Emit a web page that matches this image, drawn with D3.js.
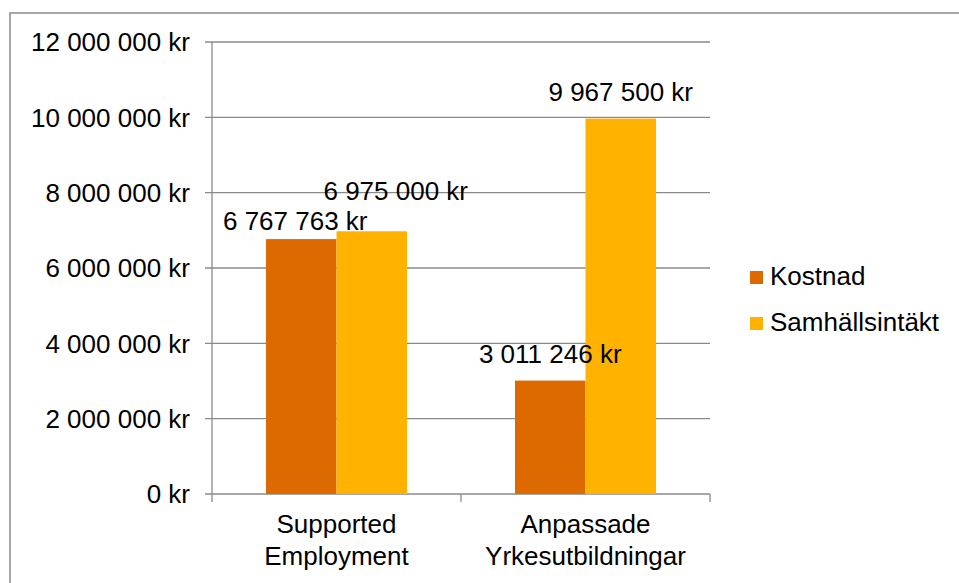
<!DOCTYPE html>
<html lang="sv">

<head>
  <meta charset="utf-8">
  <title>Kostnad och samhällsintäkt</title>
  <script src="https://cdn.jsdelivr.net/npm/d3@7"></script>
  <style>
    body { margin: 0; background: #fff; }
    svg text { font-family: "Liberation Sans", Arial, sans-serif; font-size: 26px; fill: #000; }
  </style>
</head>

<body>
  <svg id="chart" width="959" height="583"></svg>

  <script>
    // Data
    var categories = ["Supported Employment", "Anpassade Yrkesutbildningar"];
    var categoryLines = [["Supported", "Employment"], ["Anpassade", "Yrkesutbildningar"]];
    var series = ["Kostnad", "Samhällsintäkt"];
    var kostnad = [6767763, 3011246];
    var samhallsintakt = [6975000, 9967500];
    var yTicks = [0, 2000000, 4000000, 6000000, 8000000, 10000000, 12000000];
    var colors = ["#DD6A00", "#FFB300"];

    var values = [kostnad, samhallsintakt];

    // Swedish number format: "6 767 763 kr"
    var sv = d3.formatLocale({ decimal: ",", thousands: " ", grouping: [3], currency: ["", " kr"] });
    var fmt = sv.format("$,");

    var svg = d3.select("#chart");
    var plot = { left: 212, right: 710, top: 42, bottom: 494 };

    // Outer frame (only top and left visible in the picture)
    svg.append("rect")
      .attr("x", 10).attr("y", 13)
      .attr("width", 1200).attr("height", 1200)
      .attr("fill", "none").attr("stroke", "#8a8a8a").attr("stroke-width", 1.5);

    var x0 = d3.scaleBand().domain(categories).range([plot.left, plot.right]);
    var x1 = d3.scaleBand().domain(series).range([0, x0.bandwidth()]).paddingOuter(0.766);
    var y = d3.scaleLinear().domain([0, 12000000]).range([plot.bottom, plot.top]);

    // Gridlines + y ticks
    svg.append("g").selectAll("line").data(yTicks).join("line")
      .attr("x1", plot.left - 7).attr("x2", plot.right)
      .attr("y1", function (d) { return y(d); }).attr("y2", function (d) { return y(d); })
      .attr("stroke", "#8a8a8a").attr("stroke-width", 1.3);

    svg.append("g").selectAll("text").data(yTicks).join("text")
      .attr("x", plot.left - 22)
      .attr("y", function (d) { return y(d); })
      .attr("dy", "0.36em")
      .attr("text-anchor", "end")
      .text(function (d) { return fmt(d); });

    // Y axis line
    svg.append("line")
      .attr("x1", plot.left).attr("x2", plot.left)
      .attr("y1", plot.top).attr("y2", plot.bottom)
      .attr("stroke", "#8a8a8a").attr("stroke-width", 1.3);

    // X axis ticks at category boundaries
    var bounds = categories.map(function (c) { return x0(c); }).concat([plot.right]);
    svg.append("g").selectAll("line").data(bounds).join("line")
      .attr("x1", function (d) { return d; }).attr("x2", function (d) { return d; })
      .attr("y1", plot.bottom).attr("y2", plot.bottom + 8)
      .attr("stroke", "#8a8a8a").attr("stroke-width", 1.3);

    // Bars
    var rows = [];
    categories.forEach(function (c, i) {
      series.forEach(function (s, j) {
        rows.push({ cat: c, ser: s, si: j, value: values[j][i] });
      });
    });

    svg.append("g").selectAll("rect").data(rows).join("rect")
      .attr("x", function (d) { return x0(d.cat) + x1(d.ser); })
      .attr("width", x1.bandwidth())
      .attr("y", function (d) { return y(d.value); })
      .attr("height", function (d) { return y(0) - y(d.value); })
      .attr("fill", function (d) { return colors[d.si]; });

    // Value labels, nudged where Excel moved them apart
    var nudge = {
      "Supported Employment|Kostnad": [-6, 9],
      "Supported Employment|Samhällsintäkt": [24, -13]
    };
    svg.append("g").selectAll("text").data(rows).join("text")
      .attr("x", function (d) {
        var n = nudge[d.cat + "|" + d.ser] || [0, 0];
        return x0(d.cat) + x1(d.ser) + x1.bandwidth() / 2 + n[0];
      })
      .attr("y", function (d) {
        var n = nudge[d.cat + "|" + d.ser] || [0, 0];
        return y(d.value) - 18 + n[1];
      })
      .attr("text-anchor", "middle")
      .text(function (d) { return fmt(d.value); });

    // Category labels
    var catLabels = svg.append("g").selectAll("text").data(categories).join("text")
      .attr("text-anchor", "middle")
      .attr("x", function (d) { return x0(d) + x0.bandwidth() / 2; })
      .attr("y", plot.bottom + 39);
    catLabels.selectAll("tspan").data(function (d, i) { return categoryLines[i]; }).join("tspan")
      .attr("x", function () { return d3.select(this.parentNode).attr("x"); })
      .attr("dy", function (d, i) { return i === 0 ? 0 : 32; })
      .text(function (d) { return d; });

    // Legend
    var legend = svg.append("g").selectAll("g").data(series).join("g")
      .attr("transform", function (d, i) { return "translate(750," + (271 + i * 46) + ")"; });
    legend.append("rect").attr("width", 13).attr("height", 13)
      .attr("fill", function (d, i) { return colors[i]; });
    legend.append("text").attr("x", 20).attr("y", 14).text(function (d) { return d; });
  </script>
</body>

</html>
